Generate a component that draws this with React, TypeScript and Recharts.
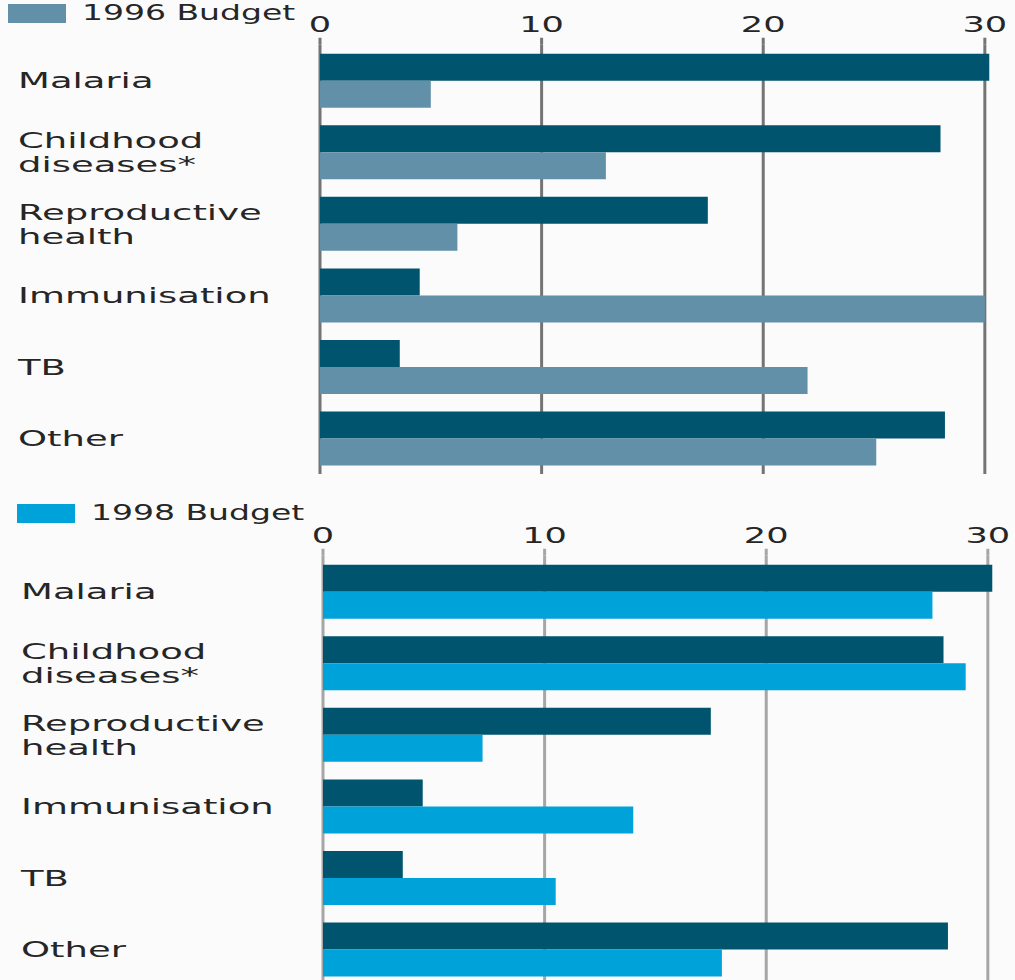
import { BarChart, Bar, XAxis, YAxis, CartesianGrid } from 'recharts';

const categories = ['Malaria', 'Childhood\ndiseases*', 'Reproductive\nhealth', 'Immunisation', 'TB', 'Other'];
const burden = [30.2, 28.0, 17.5, 4.5, 3.6, 28.2];
const budget1996 = [5.0, 12.9, 6.2, 30.0, 22.0, 25.1];
const budget1998 = [27.5, 29.0, 7.2, 14.0, 10.5, 18.0];
const xTicks = [0, 10, 20, 30];

const DARK = '#00546e';
const LIGHT_1996 = '#6290a8';
const CYAN_1998 = '#00a3d9';
const TEXT = '#262626';
const FONT = '"DejaVu Sans", sans-serif';

const top = categories.map((name, i) => ({ name, burden: burden[i], budget: budget1996[i] }));
const bottom = categories.map((name, i) => ({ name, burden: burden[i], budget: budget1998[i] }));

const CategoryTick = ({ y, payload }: any) => {
  const lines = String(payload.value).split('\n');
  return (
    <text transform={`translate(18, ${y}) scale(1.68, 1)`} fontSize={22} fontFamily={FONT} fill={TEXT}>
      {lines.map((line, i) => (
        <tspan key={i} x={0} y={(i - (lines.length - 1) / 2) * 24} dy="0.36em">
          {line}
        </tspan>
      ))}
    </text>
  );
};

const ValueTick = ({ x, y, payload }: any) => (
  <text
    transform={`translate(${x}, ${y - 4}) scale(1.6, 1)`}
    textAnchor="middle"
    fontSize={22}
    fontFamily={FONT}
    fill={TEXT}
  >
    {payload.value}
  </text>
);

const Panel = ({ data, color, grid }: { data: any[]; color: string; grid: string }) => (
  <BarChart
    width={1007}
    height={474}
    data={data}
    layout="vertical"
    margin={{ top: 0, right: 0, bottom: 0, left: 0 }}
    barSize={27}
    barGap={0}
  >
    <CartesianGrid horizontal={false} stroke={grid} strokeWidth={3} syncWithTicks />
    <XAxis
      type="number"
      orientation="top"
      domain={[0, 31]}
      ticks={xTicks}
      height={44.75}
      axisLine={false}
      tickSize={7}
      tickLine={{ stroke: grid, strokeWidth: 3 }}
      tick={<ValueTick />}
      interval={0}
    />
    <YAxis type="category" dataKey="name" width={320} axisLine={false} tickLine={false} tick={<CategoryTick />} interval={0} />
    <Bar dataKey="burden" fill={DARK} isAnimationActive={false} />
    <Bar dataKey="budget" fill={color} isAnimationActive={false} />
  </BarChart>
);

const LegendKey = ({ color, label }: { color: string; label: string }) => (
  <div style={{ display: 'flex', alignItems: 'center', height: 26, fontFamily: FONT, fontSize: 22, lineHeight: '26px', color: TEXT }}>
    <div style={{ width: 58, height: 19, background: color, marginRight: 16 }} />
    <span style={{ display: 'inline-block', transform: 'scaleX(1.5)', transformOrigin: 'left center', whiteSpace: 'nowrap' }}>
      {label}
    </span>
  </div>
);

export default function App() {
  return (
    <div
      style={{
        position: 'absolute',
        left: 0,
        top: 0,
        width: 1015,
        height: 980,
        overflow: 'hidden',
        background: '#fbfbfb',
      }}
    >
      <div style={{ position: 'absolute', left: 8, top: 0 }}>
        <LegendKey color={LIGHT_1996} label="1996 Budget" />
      </div>
      <div style={{ position: 'absolute', left: 0, top: 0 }}>
        <Panel data={top} color={LIGHT_1996} grid="#747474" />
      </div>
      <div style={{ position: 'absolute', left: 17, top: 500 }}>
        <LegendKey color={CYAN_1998} label="1998 Budget" />
      </div>
      <div style={{ position: 'absolute', left: 3, top: 511 }}>
        <Panel data={bottom} color={CYAN_1998} grid="#a6a6a6" />
      </div>
    </div>
  );
}
